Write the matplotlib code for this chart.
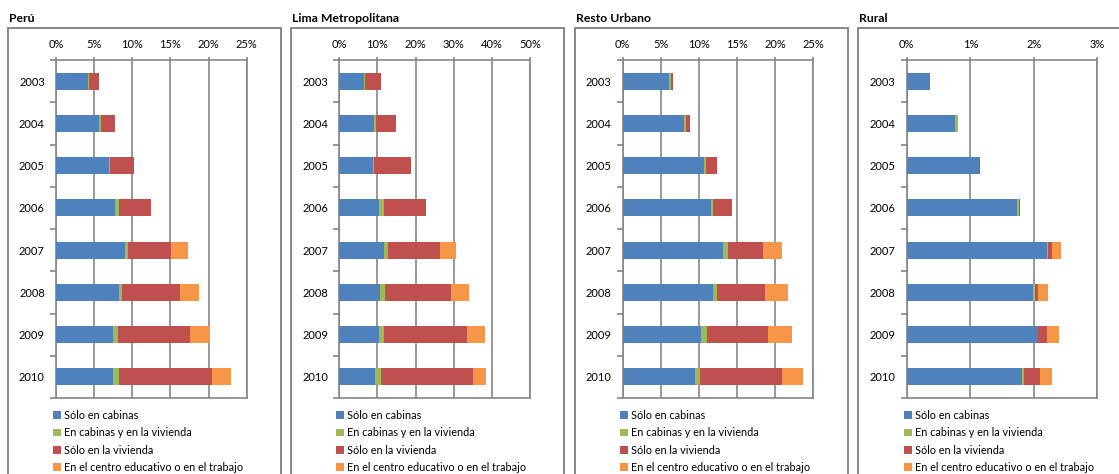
import matplotlib
matplotlib.use("Agg")
import matplotlib.pyplot as plt
from matplotlib.patches import Rectangle, Patch

plt.rcParams['font.family'] = ['Lato', 'DejaVu Sans']

years = ["2003", "2004", "2005", "2006", "2007", "2008", "2009", "2010"]
series = ["Sólo en cabinas", "En cabinas y en la vivienda",
          "Sólo en la vivienda", "En el centro educativo o en el trabajo"]
colors = ["#4F81BD", "#9BBB59", "#C0504D", "#F79646"]

# porcentajes por ámbito (cabinas, ambos, vivienda, centro educativo/trabajo)
peru_cab = [4.2, 5.6, 6.9, 7.8, 9.0, 8.2, 7.5, 7.5]
peru_amb = [0.1, 0.3, 0.15, 0.5, 0.5, 0.5, 0.6, 0.8]
peru_viv = [1.4, 1.8, 3.15, 4.2, 5.6, 7.5, 9.5, 12.2]
peru_tra = [0.0, 0.0, 0.0, 0.0, 2.2, 2.5, 2.6, 2.4]

lima_cab = [6.5, 9.1, 8.8, 10.5, 11.8, 10.7, 10.5, 9.3]
lima_amb = [0.3, 0.4, 0.3, 1.2, 0.9, 1.2, 1.2, 1.6]
lima_viv = [4.1, 5.3, 9.7, 11.0, 13.7, 17.3, 21.9, 24.2]
lima_tra = [0.0, 0.0, 0.0, 0.0, 4.2, 4.7, 4.6, 3.4]

resto_cab = [6.1, 8.0, 10.7, 11.6, 13.2, 11.8, 10.3, 9.5]
resto_amb = [0.2, 0.3, 0.2, 0.2, 0.6, 0.5, 0.8, 0.6]
resto_viv = [0.3, 0.5, 1.4, 2.5, 4.6, 6.3, 8.0, 10.8]
resto_tra = [0.0, 0.0, 0.0, 0.0, 2.5, 3.1, 3.1, 2.8]

rural_cab = [0.36, 0.76, 1.13, 1.74, 2.21, 1.99, 2.07, 1.81]
rural_amb = [0.0, 0.04, 0.0, 0.02, 0.02, 0.03, 0.0, 0.03]
rural_viv = [0.01, 0.0, 0.02, 0.02, 0.06, 0.05, 0.13, 0.25]
rural_tra = [0.0, 0.0, 0.0, 0.0, 0.13, 0.15, 0.19, 0.19]

panels = [
    ("Perú", [peru_cab, peru_amb, peru_viv, peru_tra], 25, 5),
    ("Lima Metropolitana", [lima_cab, lima_amb, lima_viv, lima_tra], 50, 10),
    ("Resto Urbano", [resto_cab, resto_amb, resto_viv, resto_tra], 25, 5),
    ("Rural", [rural_cab, rural_amb, rural_viv, rural_tra], 3, 1),
]

W, H = 1119, 474
fig = plt.figure(figsize=(W / 100, H / 100), dpi=100)
gray = "#868686"

box_left = [8, 291, 575, 858]
plot_left = [56, 339.3, 622.7, 906.7]
plot_w = 190.7
plot_top, plot_bot = 60, 398

for i, (title, data, xmax, step) in enumerate(panels):
    # marco del panel
    fig.patches.append(Rectangle((box_left[i] / W, -0.05), 273 / W, (H - 28) / H + 0.05,
                                 transform=fig.transFigure, fill=False,
                                 edgecolor=gray, lw=1.4))
    fig.text((box_left[i] + 1) / W, 1 - 19 / H, title, fontsize=8.8, fontweight='bold',
             va='center', ha='left')

    ax = fig.add_axes([plot_left[i] / W, 1 - plot_bot / H, plot_w / W,
                       (plot_bot - plot_top) / H])
    left = [0] * len(years)
    for vals, c, name in zip(data, colors, series):
        ax.barh(range(len(years)), vals, left=left, height=0.4, color=c,
                edgecolor='none', label=name, zorder=3)
        left = [a + b for a, b in zip(left, vals)]

    ax.set_xlim(0, xmax)
    ax.set_ylim(len(years) - 0.5, -0.5)
    ax.set_xticks(range(0, xmax + 1, step))
    ax.set_xticklabels([f"{v}%" for v in range(0, xmax + 1, step)])
    ax.xaxis.tick_top()
    ax.tick_params(axis='x', length=2, color=gray, width=1.2, labelsize=8, pad=5)
    ax.set_yticks(range(len(years)))
    ax.set_yticklabels(years)
    ax.set_yticks([k - 0.5 for k in range(len(years) + 1)], minor=True)
    ax.tick_params(axis='y', which='major', length=0, labelsize=8, pad=8)
    ax.tick_params(axis='y', which='minor', length=4, color=gray, width=1.2)
    ax.grid(axis='x', color=gray, lw=1.2, zorder=1)
    for s in ax.spines.values():
        s.set_color(gray)
        s.set_linewidth(1.2)

    handles = [Patch(facecolor=c, edgecolor='none') for c in colors]
    ax.legend(handles, series, loc='upper left',
              bbox_to_anchor=((plot_left[i] - 3) / W, 1 - 410 / H),
              bbox_transform=fig.transFigure, frameon=False, fontsize=7.8,
              handlelength=0.75, handleheight=0.75, handletextpad=0.25,
              labelspacing=0.58, borderaxespad=0, borderpad=0)

fig.savefig("out.png", dpi=100)
